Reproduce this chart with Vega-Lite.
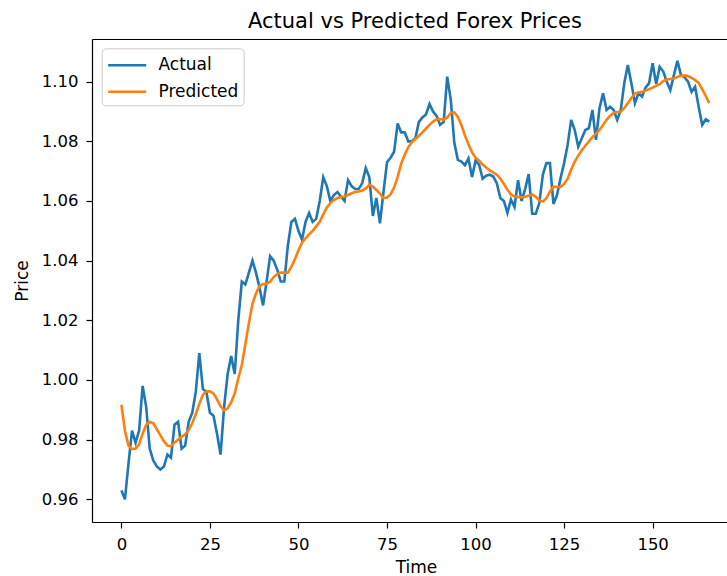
{
  "$schema": "https://vega.github.io/schema/vega-lite/v6.json",
  "autosize": {"type": "none"},
  "padding": {"left": 92, "top": 39, "right": 0, "bottom": 54},
  "width": 635,
  "height": 483,
  "background": "white",
  "title": {"text": "Actual vs Predicted Forex Prices", "font": "DejaVu Sans", "fontSize": 21, "fontWeight": "normal", "color": "#000", "anchor": "middle", "baseline": "alphabetic", "offset": 12, "dx": 5.5, "dy": 22},
  "config": {
    "view": {"stroke": null},
    "axis": {"labelFont": "DejaVu Sans", "labelFontSize": 16.5, "labelColor": "#000", "titleFont": "DejaVu Sans", "titleFontSize": 17, "titleFontWeight": "normal", "titleColor": "#000", "tickColor": "#000", "domainColor": "#000", "tickSize": 6, "tickWidth": 1.2, "domainWidth": 1.2, "grid": false}
  },
  "data": {"values": [
    {"t":0,"Actual":0.963,"Predicted":0.9917},{"t":1,"Actual":0.960,"Predicted":0.983},{"t":2,"Actual":0.972,"Predicted":0.978},{"t":3,"Actual":0.983,"Predicted":0.9768},{"t":4,"Actual":0.979,"Predicted":0.977},
    {"t":5,"Actual":0.983,"Predicted":0.9785},{"t":6,"Actual":0.998,"Predicted":0.982},{"t":7,"Actual":0.991,"Predicted":0.985},{"t":8,"Actual":0.977,"Predicted":0.986},{"t":9,"Actual":0.973,"Predicted":0.9855},
    {"t":10,"Actual":0.971,"Predicted":0.9835},{"t":11,"Actual":0.970,"Predicted":0.9815},{"t":12,"Actual":0.971,"Predicted":0.9795},{"t":13,"Actual":0.975,"Predicted":0.978},{"t":14,"Actual":0.974,"Predicted":0.9778},
    {"t":15,"Actual":0.985,"Predicted":0.979},{"t":16,"Actual":0.986,"Predicted":0.980},{"t":17,"Actual":0.977,"Predicted":0.981},{"t":18,"Actual":0.978,"Predicted":0.9818},{"t":19,"Actual":0.986,"Predicted":0.9832},
    {"t":20,"Actual":0.989,"Predicted":0.9855},{"t":21,"Actual":0.996,"Predicted":0.9885},{"t":22,"Actual":1.009,"Predicted":0.992},{"t":23,"Actual":0.997,"Predicted":0.995},{"t":24,"Actual":0.996,"Predicted":0.9962},
    {"t":25,"Actual":0.989,"Predicted":0.9962},{"t":26,"Actual":0.988,"Predicted":0.9955},{"t":27,"Actual":0.982,"Predicted":0.9935},{"t":28,"Actual":0.975,"Predicted":0.9912},{"t":29,"Actual":0.991,"Predicted":0.9898},
    {"t":30,"Actual":1.002,"Predicted":0.9905},{"t":31,"Actual":1.008,"Predicted":0.9925},{"t":32,"Actual":1.002,"Predicted":0.9955},{"t":33,"Actual":1.020,"Predicted":1.0005},{"t":34,"Actual":1.033,"Predicted":1.005},
    {"t":35,"Actual":1.032,"Predicted":1.012},{"t":36,"Actual":1.036,"Predicted":1.019},{"t":37,"Actual":1.040,"Predicted":1.0255},{"t":38,"Actual":1.036,"Predicted":1.029},{"t":39,"Actual":1.031,"Predicted":1.0315},
    {"t":40,"Actual":1.025,"Predicted":1.0322},{"t":41,"Actual":1.033,"Predicted":1.0322},{"t":42,"Actual":1.0415,"Predicted":1.033},{"t":43,"Actual":1.040,"Predicted":1.0345},{"t":44,"Actual":1.037,"Predicted":1.0355},
    {"t":45,"Actual":1.033,"Predicted":1.036},{"t":46,"Actual":1.033,"Predicted":1.036},{"t":47,"Actual":1.045,"Predicted":1.036},{"t":48,"Actual":1.053,"Predicted":1.038},{"t":49,"Actual":1.054,"Predicted":1.0405},
    {"t":50,"Actual":1.050,"Predicted":1.0435},{"t":51,"Actual":1.047,"Predicted":1.046},{"t":52,"Actual":1.053,"Predicted":1.0475},{"t":53,"Actual":1.056,"Predicted":1.0488},{"t":54,"Actual":1.053,"Predicted":1.050},
    {"t":55,"Actual":1.054,"Predicted":1.0515},{"t":56,"Actual":1.060,"Predicted":1.053},{"t":57,"Actual":1.068,"Predicted":1.0555},{"t":58,"Actual":1.065,"Predicted":1.0578},{"t":59,"Actual":1.060,"Predicted":1.0593},
    {"t":60,"Actual":1.062,"Predicted":1.0603},{"t":61,"Actual":1.063,"Predicted":1.061},{"t":62,"Actual":1.0615,"Predicted":1.0613},{"t":63,"Actual":1.060,"Predicted":1.0615},{"t":64,"Actual":1.067,"Predicted":1.062},
    {"t":65,"Actual":1.065,"Predicted":1.0626},{"t":66,"Actual":1.064,"Predicted":1.063},{"t":67,"Actual":1.064,"Predicted":1.0632},{"t":68,"Actual":1.066,"Predicted":1.0635},{"t":69,"Actual":1.071,"Predicted":1.0642},
    {"t":70,"Actual":1.068,"Predicted":1.0654},{"t":71,"Actual":1.055,"Predicted":1.0648},{"t":72,"Actual":1.061,"Predicted":1.0637},{"t":73,"Actual":1.0525,"Predicted":1.0625},{"t":74,"Actual":1.063,"Predicted":1.061},
    {"t":75,"Actual":1.073,"Predicted":1.0612},{"t":76,"Actual":1.0745,"Predicted":1.0622},{"t":77,"Actual":1.0765,"Predicted":1.0645},{"t":78,"Actual":1.086,"Predicted":1.068},{"t":79,"Actual":1.083,"Predicted":1.0725},
    {"t":80,"Actual":1.083,"Predicted":1.0755},{"t":81,"Actual":1.080,"Predicted":1.078},{"t":82,"Actual":1.080,"Predicted":1.0797},{"t":83,"Actual":1.081,"Predicted":1.0808},{"t":84,"Actual":1.0865,"Predicted":1.0818},
    {"t":85,"Actual":1.088,"Predicted":1.083},{"t":86,"Actual":1.089,"Predicted":1.0843},{"t":87,"Actual":1.0925,"Predicted":1.0855},{"t":88,"Actual":1.090,"Predicted":1.0866},{"t":89,"Actual":1.0885,"Predicted":1.0874},
    {"t":90,"Actual":1.0855,"Predicted":1.0874},{"t":91,"Actual":1.0865,"Predicted":1.0873},{"t":92,"Actual":1.1017,"Predicted":1.088},{"t":93,"Actual":1.094,"Predicted":1.0895},{"t":94,"Actual":1.0795,"Predicted":1.0897},
    {"t":95,"Actual":1.0738,"Predicted":1.0882},{"t":96,"Actual":1.0732,"Predicted":1.0855},{"t":97,"Actual":1.072,"Predicted":1.082},{"t":98,"Actual":1.0743,"Predicted":1.079},{"t":99,"Actual":1.068,"Predicted":1.0763},
    {"t":100,"Actual":1.0735,"Predicted":1.0745},{"t":101,"Actual":1.0722,"Predicted":1.0735},{"t":102,"Actual":1.0675,"Predicted":1.0722},{"t":103,"Actual":1.0685,"Predicted":1.0712},{"t":104,"Actual":1.0688,"Predicted":1.0703},
    {"t":105,"Actual":1.0682,"Predicted":1.0695},{"t":106,"Actual":1.066,"Predicted":1.0688},{"t":107,"Actual":1.061,"Predicted":1.0675},{"t":108,"Actual":1.060,"Predicted":1.0657},{"t":109,"Actual":1.056,"Predicted":1.0638},
    {"t":110,"Actual":1.0605,"Predicted":1.0622},{"t":111,"Actual":1.058,"Predicted":1.0615},{"t":112,"Actual":1.067,"Predicted":1.0613},{"t":113,"Actual":1.060,"Predicted":1.0613},{"t":114,"Actual":1.064,"Predicted":1.0614},
    {"t":115,"Actual":1.069,"Predicted":1.0618},{"t":116,"Actual":1.0557,"Predicted":1.0622},{"t":117,"Actual":1.0557,"Predicted":1.0614},{"t":118,"Actual":1.0593,"Predicted":1.0602},{"t":119,"Actual":1.0688,"Predicted":1.0598},
    {"t":120,"Actual":1.0727,"Predicted":1.0609},{"t":121,"Actual":1.0727,"Predicted":1.0631},{"t":122,"Actual":1.059,"Predicted":1.0648},{"t":123,"Actual":1.062,"Predicted":1.0647},{"t":124,"Actual":1.0676,"Predicted":1.0647},
    {"t":125,"Actual":1.0727,"Predicted":1.0657},{"t":126,"Actual":1.0788,"Predicted":1.0675},{"t":127,"Actual":1.0872,"Predicted":1.0705},{"t":128,"Actual":1.0838,"Predicted":1.0732},{"t":129,"Actual":1.0782,"Predicted":1.0752},
    {"t":130,"Actual":1.081,"Predicted":1.077},{"t":131,"Actual":1.0838,"Predicted":1.0785},{"t":132,"Actual":1.0844,"Predicted":1.080},{"t":133,"Actual":1.0905,"Predicted":1.0814},{"t":134,"Actual":1.0805,"Predicted":1.0826},
    {"t":135,"Actual":1.0911,"Predicted":1.0838},{"t":136,"Actual":1.0961,"Predicted":1.0855},{"t":137,"Actual":1.0905,"Predicted":1.0872},{"t":138,"Actual":1.0916,"Predicted":1.0886},{"t":139,"Actual":1.0905,"Predicted":1.0895},
    {"t":140,"Actual":1.0872,"Predicted":1.0898},{"t":141,"Actual":1.0905,"Predicted":1.0899},{"t":142,"Actual":1.0995,"Predicted":1.0912},{"t":143,"Actual":1.1056,"Predicted":1.0928},{"t":144,"Actual":1.0995,"Predicted":1.0945},
    {"t":145,"Actual":1.0928,"Predicted":1.096},{"t":146,"Actual":1.0961,"Predicted":1.0964},{"t":147,"Actual":1.095,"Predicted":1.0966},{"t":148,"Actual":1.098,"Predicted":1.097},{"t":149,"Actual":1.0995,"Predicted":1.0975},
    {"t":150,"Actual":1.1062,"Predicted":1.098},{"t":151,"Actual":1.0992,"Predicted":1.0986},{"t":152,"Actual":1.105,"Predicted":1.0992},{"t":153,"Actual":1.1034,"Predicted":1.1002},{"t":154,"Actual":1.100,"Predicted":1.1008},
    {"t":155,"Actual":1.0972,"Predicted":1.1009},{"t":156,"Actual":1.1022,"Predicted":1.1011},{"t":157,"Actual":1.107,"Predicted":1.1016},{"t":158,"Actual":1.1022,"Predicted":1.102},{"t":159,"Actual":1.1015,"Predicted":1.1021},
    {"t":160,"Actual":1.100,"Predicted":1.1019},{"t":161,"Actual":1.0966,"Predicted":1.1013},{"t":162,"Actual":1.0983,"Predicted":1.1005},{"t":163,"Actual":1.0916,"Predicted":1.0996},{"t":164,"Actual":1.0855,"Predicted":1.0975},
    {"t":165,"Actual":1.0874,"Predicted":1.0952},{"t":166,"Actual":1.0866,"Predicted":1.0928}
  ]},
  "transform": [{"fold": ["Actual", "Predicted"], "as": ["series", "price"]}],
  "resolve": {"axis": {"x": "independent"}},
  "layer": [
    {
      "mark": {"type": "line", "strokeWidth": 2.6},
      "encoding": {
        "x": {"field": "t", "type": "quantitative", "scale": {"domain": [-8.3, 171.0], "nice": false, "zero": false},
              "axis": {"orient": "bottom", "values": [0, 25, 50, 75, 100, 125, 150], "labelPadding": 8, "title": "Time", "titleX": 324, "titleY": 50, "titleBaseline": "alphabetic"}},
        "y": {"field": "price", "type": "quantitative", "scale": {"domain": [0.9524, 1.1143], "nice": false, "zero": false},
              "axis": {"values": [0.96, 0.98, 1.0, 1.02, 1.04, 1.06, 1.08, 1.1], "format": ".2f", "labelPadding": 8, "title": "Price", "titleX": -65, "titleY": 241.5, "titleBaseline": "alphabetic", "titleAngle": -90}},
        "color": {"field": "series", "type": "nominal", "scale": {"domain": ["Actual", "Predicted"], "range": ["#1f77b4", "#ff7f0e"]},
                  "legend": {"orient": "none", "legendX": 9.7, "legendY": 9.3, "title": null, "symbolType": "M-1,0H2.62", "symbolStrokeWidth": 2.6, "symbolSize": 441, "labelFont": "DejaVu Sans", "labelFontSize": 17, "labelColor": "#000", "labelOffset": 27.8, "padding": 5, "rowPadding": 6.5, "strokeColor": "#cccccc", "fillColor": "rgba(255,255,255,0.8)", "cornerRadius": 4}}
      }
    },
    {
      "mark": {"type": "line", "opacity": 0},
      "encoding": {
        "x": {"field": "t", "type": "quantitative", "scale": {"domain": [-8.3, 171.0], "nice": false, "zero": false},
              "axis": {"orient": "top", "labels": false, "ticks": false, "title": null}},
        "y": {"field": "price", "type": "quantitative"},
        "detail": {"field": "series", "type": "nominal"}
      }
    }
  ]
}
